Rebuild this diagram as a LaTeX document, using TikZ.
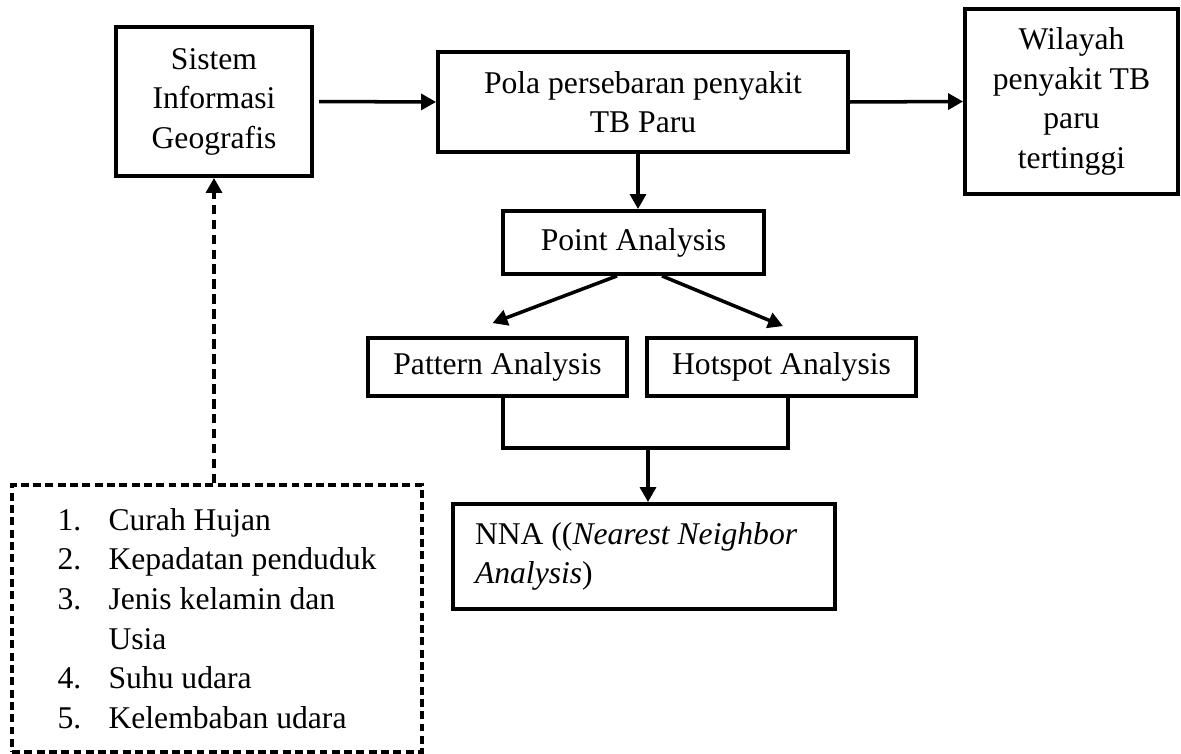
\documentclass[tikz,border=0pt]{standalone}
\usepackage{fontspec}
\setmainfont{Liberation Serif}
\usepackage{tikz}
\usetikzlibrary{arrows.meta, positioning, calc}

\begin{document}
\begin{tikzpicture}[
  flowbox/.style={draw, line width=2.2pt, align=center, inner sep=4pt, font=\fontsize{18}{22.5}\selectfont},
  dashbox/.style={draw, line width=2pt, dash pattern=on 4.5pt off 2.5pt, align=left, inner sep=4pt, font=\fontsize{18}{22.5}\selectfont},
  conn/.style={line width=2pt},
  arr/.style={conn, -{Triangle[length=8.5pt, width=9pt]}}
]
  \useasboundingbox (0,0) rectangle (23.62,-15.08);

  % top row
  \node[flowbox, minimum width=3.92cm, minimum height=2.98cm] (sig) at (4.28,-2.03)
    {Sistem\\Informasi\\Geografis};
  \node[flowbox, minimum width=8.2cm, minimum height=2.0cm] (pola) at (12.86,-2.04)
    {Pola persebaran penyakit\\TB Paru};
  \node[flowbox, minimum width=4.26cm, minimum height=3.7cm] (wil) at (21.43,-2.03)
    {Wilayah\\penyakit TB\\paru\\tertinggi};

  % analysis
  \node[flowbox, minimum width=5.22cm, minimum height=1.26cm] (point) at (12.67,-4.85) {Point Analysis};
  \node[flowbox, minimum width=5.18cm, minimum height=1.16cm] (pattern) at (9.95,-7.34) {Pattern Analysis};
  \node[flowbox, minimum width=5.38cm, minimum height=1.16cm] (hotspot) at (15.63,-7.34) {Hotspot Analysis};
  \node[flowbox, minimum width=7.64cm, minimum height=2.1cm, text width=6.76cm, inner xsep=0.44cm, align=flush left] (nna) at (12.88,-11.13)
    {NNA ((\textit{Nearest Neighbor}\\\textit{Analysis})};

  % factors
  \node[dashbox, minimum width=8.2cm, minimum height=5.34cm] (faktor) at (4.34,-12.37) {
    \makebox[29pt][l]{1.}Curah Hujan\\
    \makebox[29pt][l]{2.}Kepadatan penduduk\\
    \makebox[29pt][l]{3.}Jenis kelamin dan\\
    \hspace*{29pt}Usia\\
    \makebox[29pt][l]{4.}Suhu udara\\
    \makebox[29pt][l]{5.}Kelembaban udara
  };

  \coordinate (merge) at (12.96,-8.96);

  % connectors
  \draw[arr, shorten <=3pt] (sig.east) -- (pola.west);
  \draw[arr] (pola.east) -- (wil.west);
  \draw[arr] ([xshift=-0.1cm]pola.south) -- ([xshift=-0.1cm]pola.south |- point.north);
  \draw[arr] ([xshift=-0.33cm]point.south) -- ([xshift=-0.1cm, yshift=0.26cm]pattern.north);
  \draw[arr] ([xshift=0.57cm]point.south) -- ([xshift=0.03cm, yshift=0.2cm]hotspot.north);
  \draw[conn] ([xshift=0.11cm]pattern.south) |- (merge) -| ([xshift=0.13cm]hotspot.south);
  \draw[arr] (merge) -- (merge |- nna.north);
  \draw[arr, dash pattern=on 5.5pt off 3pt] (sig.south |- faktor.north) -- (sig.south);
\end{tikzpicture}
\end{document}
